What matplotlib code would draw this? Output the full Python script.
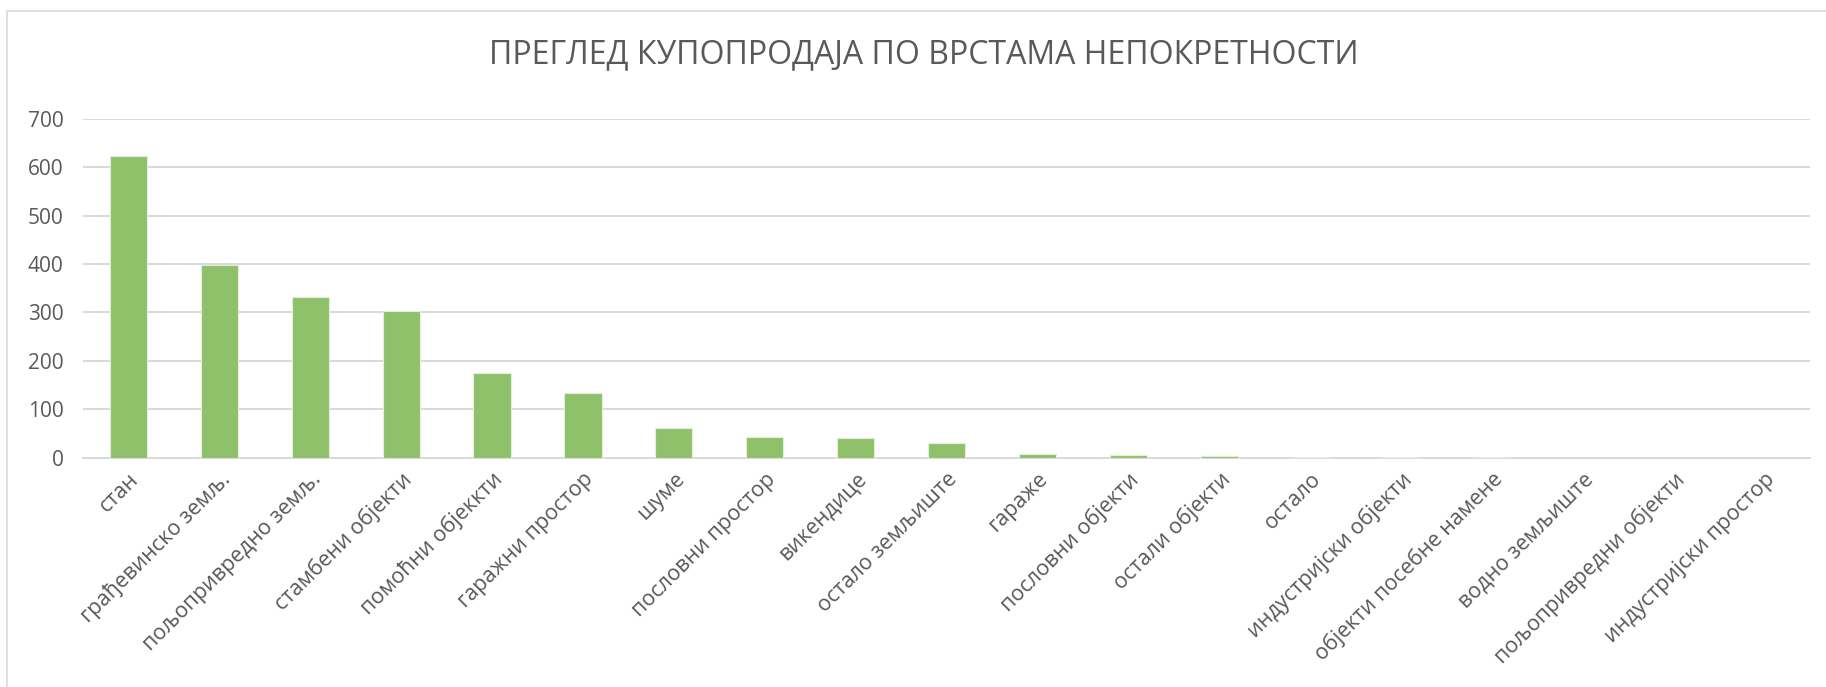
import matplotlib
matplotlib.use("Agg")
import matplotlib.pyplot as plt
from matplotlib.patches import Rectangle

categories = ["стан", "грађевинско земљ.", "пољопривредно земљ.", "стамбени објекти",
              "помоћни објеккти", "гаражни простор", "шуме", "пословни простор",
              "викендице", "остало земљиште", "гараже", "пословни објекти",
              "остали објекти", "остало", "индустријски објекти",
              "објекти посебне намене", "водно земљиште", "пољопривредни објекти",
              "индустријски простор"]
values = [623, 399, 332, 302, 174, 133, 61, 42, 40, 31, 8, 5, 4, 2, 1, 1, 0, 0, 0]
yticks = [0, 100, 200, 300, 400, 500, 600, 700]

def main():
    plt.rcParams['font.family'] = ['Open Sans', 'DejaVu Sans']
    text_color = '#595959'
    grid_color = '#d9d9d9'

    fig = plt.figure(figsize=(18.26, 6.87), dpi=100)
    ax = fig.add_axes([0.0455, 0.334, 0.9457, 0.4928])

    # chart area border
    fig.patches.append(Rectangle((7 / 1826, -0.1), 1.2, 1 - 11 / 687 + 0.1,
                                 transform=fig.transFigure, fill=False,
                                 edgecolor=grid_color, linewidth=1.2))

    x = list(range(len(categories)))
    ax.bar(x, values, width=0.41, color='#8fc16a', edgecolor='#e2f0d9',
           linewidth=0.8, zorder=3)

    ax.set_xlim(-0.5, len(categories) - 0.5)
    ax.set_ylim(0, 700)
    ax.set_yticks(yticks)
    ax.set_yticklabels([str(v) for v in yticks])
    ax.yaxis.grid(True, color=grid_color, linewidth=1.4, zorder=0)
    ax.set_axisbelow(True)

    for s in ['top', 'right', 'left']:
        ax.spines[s].set_visible(False)
    ax.spines['bottom'].set_color(grid_color)
    ax.spines['bottom'].set_linewidth(1.4)

    ax.tick_params(axis='y', length=0, pad=14, labelsize=15, labelcolor=text_color)
    ax.tick_params(axis='x', length=0, pad=8, labelsize=15.5, labelcolor=text_color)
    ax.set_xticks(x)
    ax.set_xticklabels(categories, rotation=45, ha='right', va='top',
                       rotation_mode='anchor')

    fig.text(0.506, 0.92, 'ПРЕГЛЕД КУПОПРОДАЈА ПО ВРСТАМА НЕПОКРЕТНОСТИ',
             ha='center', va='center', fontsize=23, color=text_color)

    fig.savefig('out.png', dpi=100)
    return 0

if __name__ == '__main__':
    main()
